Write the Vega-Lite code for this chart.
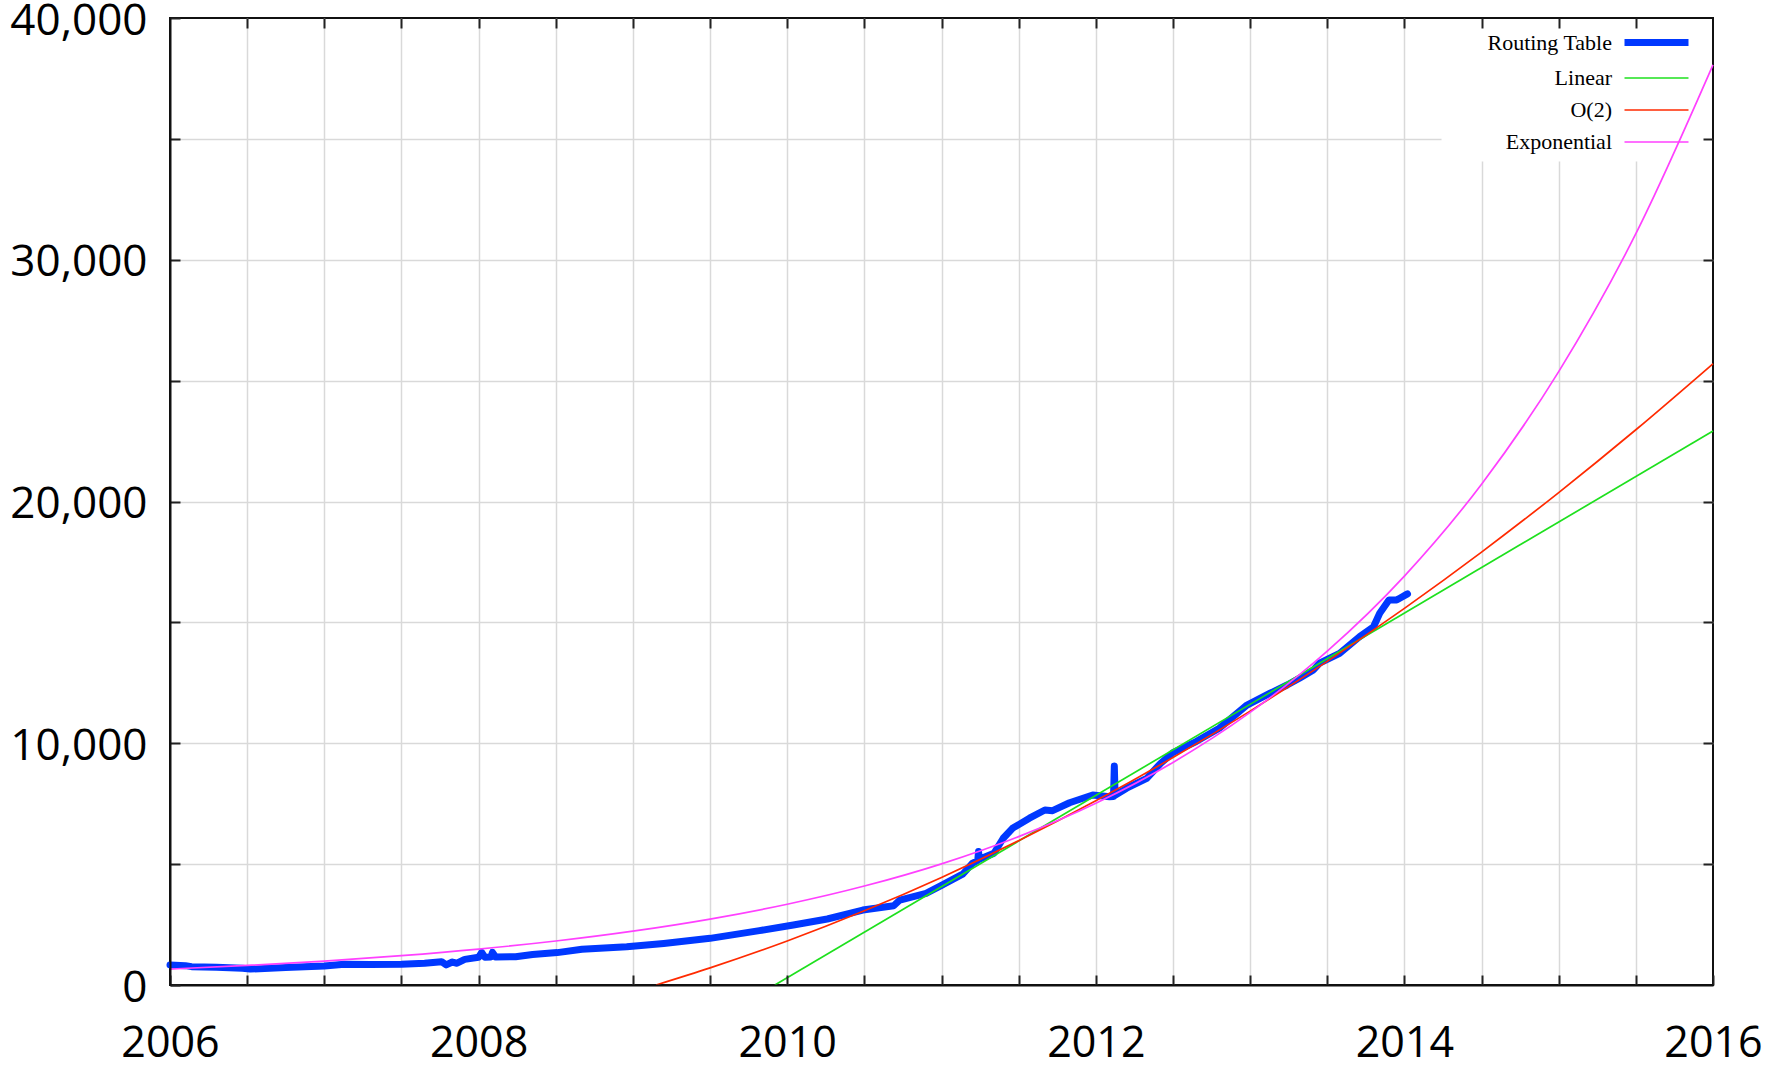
{
  "$schema": "https://vega.github.io/schema/vega-lite/v6.json",
  "width": 1543,
  "height": 967,
  "autosize": {"type": "none"},
  "padding": {"left": 170, "top": 18, "right": 66, "bottom": 81},
  "background": "white",
  "config": {
    "view": {"stroke": "#111111", "strokeWidth": 2},
    "legend": {"labelFont": "Liberation Serif"}
  },
  "datasets": {
    "rt": [
      {"year": 2006.00, "value": 830, "series": "Routing Table"},
      {"year": 2006.10, "value": 800, "series": "Routing Table"},
      {"year": 2006.14, "value": 760, "series": "Routing Table"},
      {"year": 2006.30, "value": 730, "series": "Routing Table"},
      {"year": 2006.47, "value": 690, "series": "Routing Table"},
      {"year": 2006.52, "value": 660, "series": "Routing Table"},
      {"year": 2006.75, "value": 720, "series": "Routing Table"},
      {"year": 2007.00, "value": 785, "series": "Routing Table"},
      {"year": 2007.13, "value": 855, "series": "Routing Table"},
      {"year": 2007.30, "value": 850, "series": "Routing Table"},
      {"year": 2007.50, "value": 855, "series": "Routing Table"},
      {"year": 2007.65, "value": 900, "series": "Routing Table"},
      {"year": 2007.76, "value": 965, "series": "Routing Table"},
      {"year": 2007.79, "value": 830, "series": "Routing Table"},
      {"year": 2007.83, "value": 950, "series": "Routing Table"},
      {"year": 2007.86, "value": 900, "series": "Routing Table"},
      {"year": 2007.91, "value": 1060, "series": "Routing Table"},
      {"year": 2008.00, "value": 1145, "series": "Routing Table"},
      {"year": 2008.02, "value": 1350, "series": "Routing Table"},
      {"year": 2008.04, "value": 1150, "series": "Routing Table"},
      {"year": 2008.08, "value": 1160, "series": "Routing Table"},
      {"year": 2008.09, "value": 1350, "series": "Routing Table"},
      {"year": 2008.11, "value": 1160, "series": "Routing Table"},
      {"year": 2008.24, "value": 1170, "series": "Routing Table"},
      {"year": 2008.35, "value": 1260, "series": "Routing Table"},
      {"year": 2008.51, "value": 1340, "series": "Routing Table"},
      {"year": 2008.67, "value": 1475, "series": "Routing Table"},
      {"year": 2008.96, "value": 1585, "series": "Routing Table"},
      {"year": 2009.20, "value": 1720, "series": "Routing Table"},
      {"year": 2009.50, "value": 1930, "series": "Routing Table"},
      {"year": 2009.82, "value": 2250, "series": "Routing Table"},
      {"year": 2010.04, "value": 2480, "series": "Routing Table"},
      {"year": 2010.26, "value": 2730, "series": "Routing Table"},
      {"year": 2010.49, "value": 3100, "series": "Routing Table"},
      {"year": 2010.69, "value": 3280, "series": "Routing Table"},
      {"year": 2010.73, "value": 3515, "series": "Routing Table"},
      {"year": 2010.90, "value": 3790, "series": "Routing Table"},
      {"year": 2011.00, "value": 4120, "series": "Routing Table"},
      {"year": 2011.14, "value": 4600, "series": "Routing Table"},
      {"year": 2011.20, "value": 5030, "series": "Routing Table"},
      {"year": 2011.235, "value": 5150, "series": "Routing Table"},
      {"year": 2011.24, "value": 5520, "series": "Routing Table"},
      {"year": 2011.245, "value": 5200, "series": "Routing Table"},
      {"year": 2011.34, "value": 5450, "series": "Routing Table"},
      {"year": 2011.40, "value": 6070, "series": "Routing Table"},
      {"year": 2011.46, "value": 6480, "series": "Routing Table"},
      {"year": 2011.57, "value": 6900, "series": "Routing Table"},
      {"year": 2011.67, "value": 7240, "series": "Routing Table"},
      {"year": 2011.72, "value": 7210, "series": "Routing Table"},
      {"year": 2011.83, "value": 7540, "series": "Routing Table"},
      {"year": 2011.98, "value": 7860, "series": "Routing Table"},
      {"year": 2012.09, "value": 7790, "series": "Routing Table"},
      {"year": 2012.115, "value": 7800, "series": "Routing Table"},
      {"year": 2012.12, "value": 9060, "series": "Routing Table"},
      {"year": 2012.125, "value": 7850, "series": "Routing Table"},
      {"year": 2012.20, "value": 8140, "series": "Routing Table"},
      {"year": 2012.33, "value": 8550, "series": "Routing Table"},
      {"year": 2012.42, "value": 9170, "series": "Routing Table"},
      {"year": 2012.50, "value": 9610, "series": "Routing Table"},
      {"year": 2012.65, "value": 10070, "series": "Routing Table"},
      {"year": 2012.80, "value": 10620, "series": "Routing Table"},
      {"year": 2012.98, "value": 11580, "series": "Routing Table"},
      {"year": 2013.13, "value": 12070, "series": "Routing Table"},
      {"year": 2013.24, "value": 12410, "series": "Routing Table"},
      {"year": 2013.32, "value": 12690, "series": "Routing Table"},
      {"year": 2013.41, "value": 13030, "series": "Routing Table"},
      {"year": 2013.45, "value": 13310, "series": "Routing Table"},
      {"year": 2013.58, "value": 13720, "series": "Routing Table"},
      {"year": 2013.71, "value": 14410, "series": "Routing Table"},
      {"year": 2013.80, "value": 14820, "series": "Routing Table"},
      {"year": 2013.84, "value": 15380, "series": "Routing Table"},
      {"year": 2013.90, "value": 15930, "series": "Routing Table"},
      {"year": 2013.95, "value": 15930, "series": "Routing Table"},
      {"year": 2013.97, "value": 16000, "series": "Routing Table"},
      {"year": 2014.02, "value": 16180, "series": "Routing Table"}
    ],
    "fits": [
      {"year": 2009.92, "value": 0, "series": "Linear"},
      {"year": 2016.0, "value": 22920, "series": "Linear"},
      {"year": 2009.15, "value": 0, "series": "O(2)"},
      {"year": 2009.5, "value": 708, "series": "O(2)"},
      {"year": 2010.0, "value": 1820, "series": "O(2)"},
      {"year": 2010.5, "value": 3068, "series": "O(2)"},
      {"year": 2011.0, "value": 4450, "series": "O(2)"},
      {"year": 2011.5, "value": 5968, "series": "O(2)"},
      {"year": 2012.0, "value": 7620, "series": "O(2)"},
      {"year": 2012.5, "value": 9408, "series": "O(2)"},
      {"year": 2013.0, "value": 11330, "series": "O(2)"},
      {"year": 2013.5, "value": 13388, "series": "O(2)"},
      {"year": 2014.0, "value": 15580, "series": "O(2)"},
      {"year": 2014.5, "value": 17908, "series": "O(2)"},
      {"year": 2015.0, "value": 20370, "series": "O(2)"},
      {"year": 2015.5, "value": 22968, "series": "O(2)"},
      {"year": 2016.0, "value": 25700, "series": "O(2)"},
      {"year": 2006.0, "value": 660, "series": "Exponential"},
      {"year": 2006.5, "value": 808, "series": "Exponential"},
      {"year": 2007.0, "value": 990, "series": "Exponential"},
      {"year": 2007.5, "value": 1213, "series": "Exponential"},
      {"year": 2008.0, "value": 1485, "series": "Exponential"},
      {"year": 2008.5, "value": 1819, "series": "Exponential"},
      {"year": 2009.0, "value": 2228, "series": "Exponential"},
      {"year": 2009.5, "value": 2728, "series": "Exponential"},
      {"year": 2010.0, "value": 3341, "series": "Exponential"},
      {"year": 2010.5, "value": 4093, "series": "Exponential"},
      {"year": 2011.0, "value": 5012, "series": "Exponential"},
      {"year": 2011.5, "value": 6139, "series": "Exponential"},
      {"year": 2012.0, "value": 7518, "series": "Exponential"},
      {"year": 2012.5, "value": 9208, "series": "Exponential"},
      {"year": 2013.0, "value": 11277, "series": "Exponential"},
      {"year": 2013.5, "value": 13811, "series": "Exponential"},
      {"year": 2014.0, "value": 16916, "series": "Exponential"},
      {"year": 2014.5, "value": 20717, "series": "Exponential"},
      {"year": 2015.0, "value": 25374, "series": "Exponential"},
      {"year": 2015.5, "value": 31076, "series": "Exponential"},
      {"year": 2016.0, "value": 38060, "series": "Exponential"}
    ]
  },
  "encoding": {
    "color": {
      "field": "series", "type": "nominal",
      "scale": {"domain": ["Routing Table", "Linear", "O(2)", "Exponential"], "range": ["#0038ff", "#1ee01e", "#ff2a00", "#ff40ff"]},
      "legend": {"title": null, "orient": "top-right", "offset": 0, "padding": 10, "fillColor": null, "strokeColor": null, "symbolType": "M-3,0H3", "symbolSize": 455, "labelFontSize": 22, "labelColor": "#000000", "labelAlign": "right", "labelOffset": -59, "rowPadding": 9, "labelFont": "Liberation Serif"}
    },
    "strokeWidth": {
      "field": "series", "type": "nominal",
      "scale": {"type": "ordinal", "domain": ["Routing Table", "Linear", "O(2)", "Exponential"], "range": [7, 1.7, 1.7, 1.7]},
      "legend": {"title": null, "orient": "top-right", "offset": 0, "padding": 10, "fillColor": null, "strokeColor": null, "symbolType": "M-3,0H3", "symbolSize": 455, "labelFontSize": 22, "labelColor": "#000000", "labelAlign": "right", "labelOffset": -59, "rowPadding": 9, "labelFont": "Liberation Serif"}
    }
  },
  "layer": [
    {
      "data": {"name": "rt"},
      "mark": {"type": "line", "strokeCap": "round", "strokeJoin": "round"},
      "encoding": {
        "x": {
          "field": "year", "type": "quantitative",
          "scale": {"domain": [2006, 2016], "nice": false, "zero": false},
          "axis": {
            "orient": "bottom", "title": null,
            "values": [2006, 2006.5, 2007, 2007.5, 2008, 2008.5, 2009, 2009.5, 2010, 2010.5, 2011, 2011.5, 2012, 2012.5, 2013, 2013.5, 2014, 2014.5, 2015, 2015.5, 2016],
            "labelExpr": "datum.value % 2 == 0 ? format(datum.value, 'd') : ''",
            "grid": false, "domain": true, "domainColor": "#111111", "domainWidth": 2,
            "ticks": true, "tickSize": -10, "tickColor": "#222222", "tickWidth": 2,
            "labelPadding": 47, "labelFontSize": 43, "labelFont": "Open Sans", "labelColor": "#000000",
            "labelFlush": false, "labelOverlap": false, "zindex": 1
          }
        },
        "y": {
          "field": "value", "type": "quantitative",
          "scale": {"domain": [0, 40000], "nice": false},
          "axis": {
            "orient": "left", "title": null,
            "values": [0, 5000, 10000, 15000, 20000, 25000, 30000, 35000, 40000],
            "labelExpr": "datum.value % 10000 == 0 ? format(datum.value, ',') : ''",
            "grid": false, "domain": true, "domainColor": "#111111", "domainWidth": 2,
            "ticks": true, "tickSize": -10, "tickColor": "#222222", "tickWidth": 2,
            "labelPadding": 33, "labelFontSize": 44, "labelFont": "Open Sans", "labelColor": "#000000",
            "labelOffset": 3,
            "labelFlush": false, "labelOverlap": false, "zindex": 1
          }
        }
      }
    },
    {
      "data": {"name": "fits"},
      "mark": {"type": "line", "interpolate": "monotone"},
      "encoding": {
        "x": {
          "field": "year", "type": "quantitative",
          "scale": {"domain": [2006, 2016], "nice": false, "zero": false},
          "axis": {
            "orient": "top", "title": null, "labels": false,
            "values": [2006.5, 2007, 2007.5, 2008, 2008.5, 2009, 2009.5, 2010, 2010.5, 2011, 2011.5, 2012, 2012.5, 2013, 2013.5, 2014, 2014.5, 2015, 2015.5],
            "grid": true, "gridColor": "#d9d9d9", "gridWidth": 1.5,
            "gridDash": {"condition": {"test": "datum.value >= 2014.4", "value": [824, 400]}, "value": []},
            "domain": false,
            "ticks": true, "tickSize": -10, "tickColor": "#222222", "tickWidth": 2
          }
        },
        "y": {
          "field": "value", "type": "quantitative",
          "scale": {"domain": [0, 40000], "nice": false},
          "axis": {
            "orient": "right", "title": null, "labels": false,
            "values": [5000, 10000, 15000, 20000, 25000, 30000, 35000],
            "grid": true, "gridColor": "#d9d9d9", "gridWidth": 1.5,
            "gridDash": {"condition": {"test": "datum.value >= 34000", "value": [0, 272, 1400, 0]}, "value": []},
            "domain": false,
            "ticks": true, "tickSize": -10, "tickColor": "#222222", "tickWidth": 2
          }
        }
      }
    }
  ],
  "resolve": {"axis": {"x": "independent", "y": "independent"}}
}
